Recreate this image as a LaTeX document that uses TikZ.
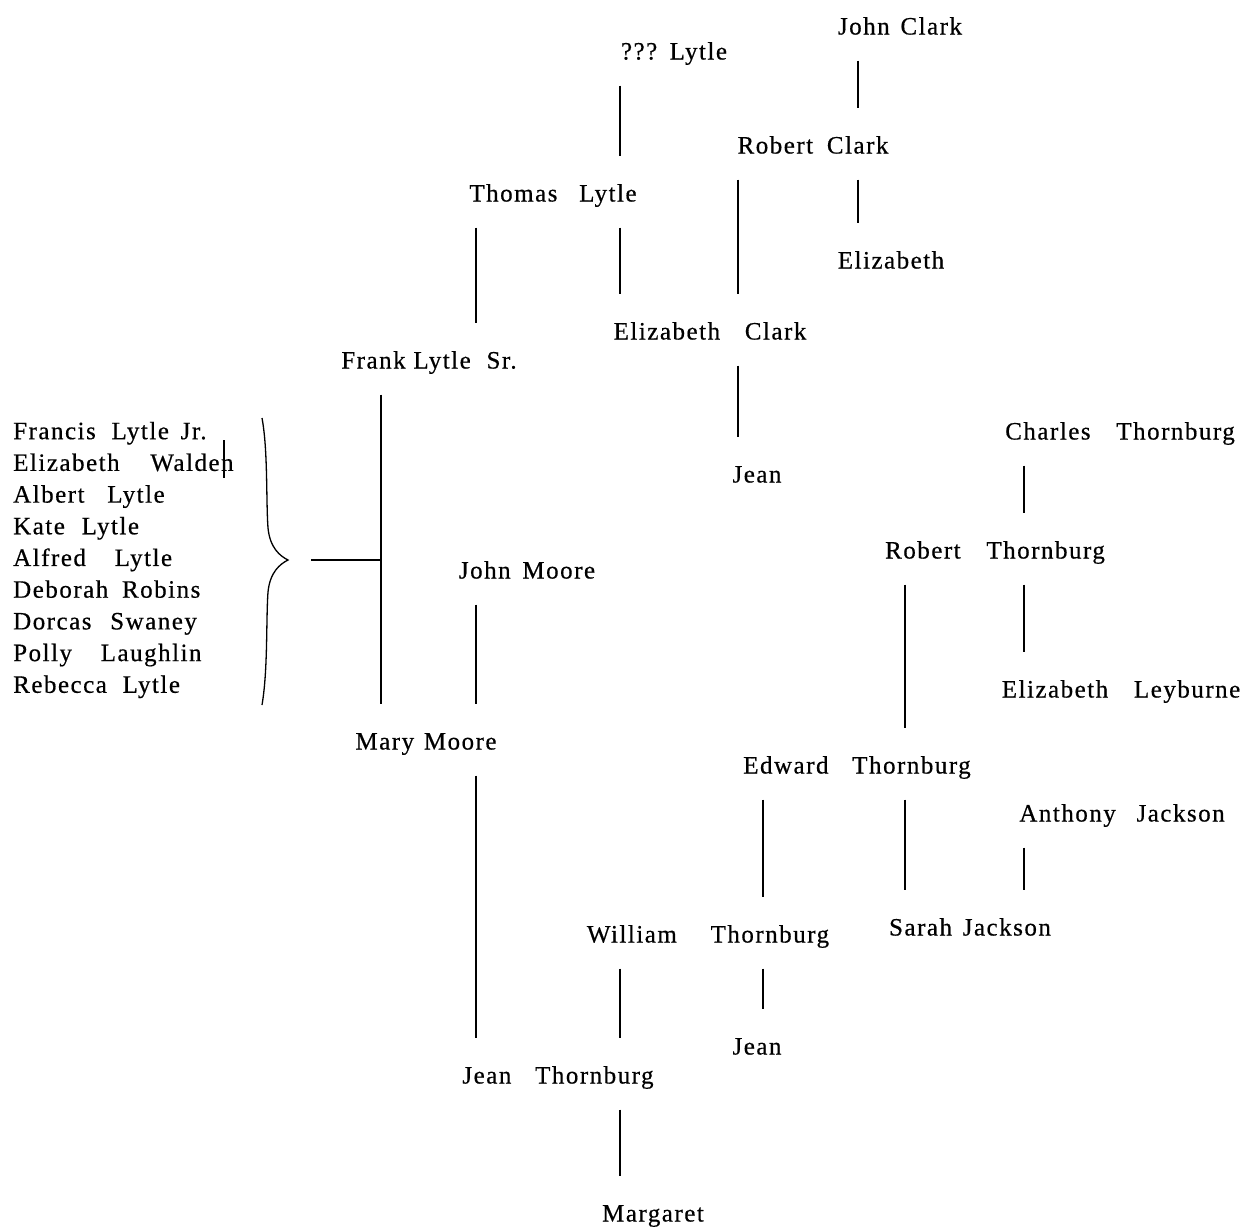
\documentclass[tikz,border=0pt]{standalone}
\usepackage{fontspec}
\setmainfont{Liberation Serif}[LetterSpace=6,FakeBold=0.5]
\newcommand{\gap}[1]{\hspace{#1pt}}
\begin{document}
\begin{tikzpicture}[x=1pt,y=-1pt,
  person/.style={inner xsep=0pt,inner ysep=24pt,text height=21pt,text depth=2pt,font=\fontsize{25}{31.7}\selectfont},
  link/.style={line width=1.6pt}]
\useasboundingbox (0,0) rectangle (1247,1227);
% column positions of connectors
\foreach \n/\xx in {a/381,b/476,c/620,d/738,e/763,f/858,g/905,h/1024}
  \coordinate (x\n) at (\xx,0);
% people
\node[person] (johnclark) at (900,25) {John \gap{3}Clark};
\node[person] (unk) at (674,50) {??? \gap{2}Lytle};
\node[person] (robertclark) at (813,144) {Robert \gap{6}Clark};
\node[person] (thomas) at (553,192) {Thomas \gap{14}Lytle};
\node[person] (elizabeth) at (891,259) {Elizabeth};
\node[person] (elizclark) at (710,330) {Elizabeth \gap{17}Clark};
\node[person] (frank) at (429,359) {Frank Lytle \gap{8}Sr.};
\node[person] (jeanone) at (757,473) {Jean};
\node[person] (johnmoore) at (527,569) {John \gap{4}Moore};
\node[person] (mary) at (426,740) {Mary \gap{2}Moore};
\node[person] (charles) at (1120,430) {Charles \gap{18}Thornburg};
\node[person] (robertt) at (995,549) {Robert \gap{18}Thornburg};
\node[person] (elizl) at (1121,688) {Elizabeth \gap{18}Leyburne};
\node[person] (edward) at (857,764) {Edward \gap{16}Thornburg};
\node[person] (anthony) at (1122,812) {Anthony \gap{13}Jackson};
\node[person] (sarah) at (970,926) {Sarah \gap{3}Jackson};
\node[person] (william) at (708,933) {William \gap{26}Thornburg};
\node[person] (jeantwo) at (757,1045) {Jean};
\node[person] (jeant) at (558,1074) {Jean \gap{16}Thornburg};
\node[person] (margaret) at (653,1212) {Margaret};
% children list
\node[anchor=west,align=left,inner sep=0pt,font=\fontsize{25}{31.7}\selectfont] (kids) at (13,560)
  {Francis \gap{8}Lytle \gap{4}Jr.\\
   Elizabeth \gap{23}Walden\\
   Albert \gap{15}Lytle\\
   Kate \gap{9}Lytle\\
   Alfred \gap{21}Lytle\\
   Deborah \gap{6}Robins\\
   Dorcas \gap{11}Swaney\\
   Polly \gap{21}Laughlin\\
   Rebecca \gap{8}Lytle};
% connectors
\draw[link] (unk.south -| xc) -- (thomas.north -| xc);
\draw[link] (johnclark.south -| xf) -- (robertclark.north -| xf);
\draw[link] (robertclark.south -| xd) -- (elizclark.north -| xd);
\draw[link] (robertclark.south -| xf) -- (elizabeth.north -| xf);
\draw[link] (thomas.south -| xb) -- (frank.north -| xb);
\draw[link] (thomas.south -| xc) -- (elizclark.north -| xc);
\draw[link] (elizclark.south -| xd) -- (jeanone.north -| xd);
\draw[link] (frank.south -| xa) -- (mary.north -| xa);
\draw[link] (johnmoore.south -| xb) -- (mary.north -| xb);
\draw[link] (mary.south -| xb) -- (jeant.north -| xb);
\draw[link] (charles.south -| xh) -- (robertt.north -| xh);
\draw[link] (robertt.south -| xh) -- (elizl.north -| xh);
\draw[link] (robertt.south -| xg) -- (edward.north -| xg);
\draw[link] (edward.south -| xe) -- (william.north -| xe);
\draw[link] (edward.south -| xg) -- (sarah.north -| xg);
\draw[link] (anthony.south -| xh) -- (sarah.north -| xh);
\draw[link] (william.south -| xc) -- (jeant.north -| xc);
\draw[link] (william.south -| xe) -- (jeantwo.north -| xe);
\draw[link] (jeant.south -| xc) -- (margaret.north -| xc);
% brace and its link
\draw[line width=1.3pt] (262,418) .. controls (268,450) and (266,500) .. (268,528)
   .. controls (270,548) and (280,556) .. (288,560)
   .. controls (280,564) and (270,572) .. (268,592)
   .. controls (266,620) and (268,670) .. (262,705);
\coordinate (bracetip) at (311,560);
\coordinate (junction) at (frank.south -| xa);
\draw[link] (bracetip) -- (junction |- bracetip);
% stray cursor mark
\draw[line width=1.2pt] (224,440) -- (224,478);
\end{tikzpicture}
\end{document}
